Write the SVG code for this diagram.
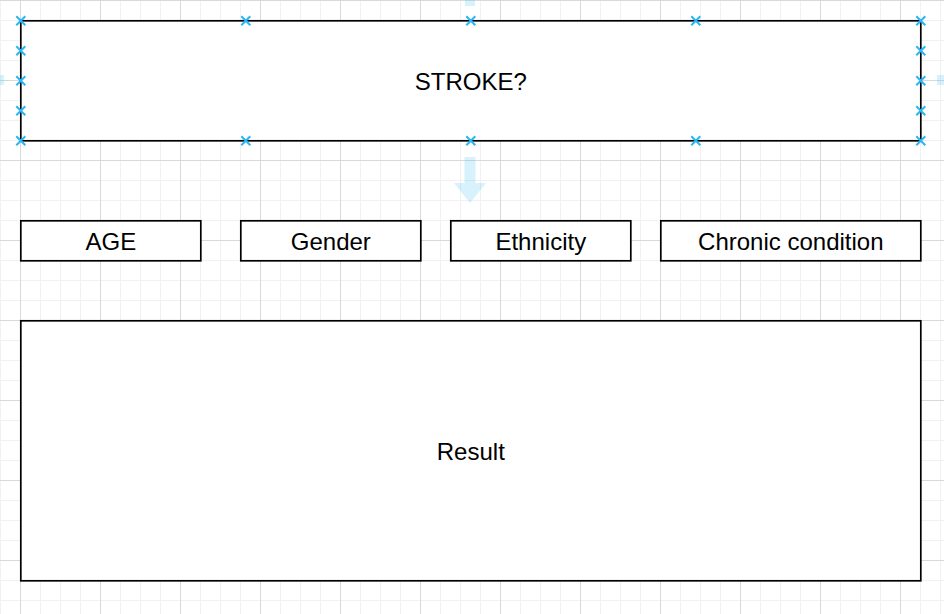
<svg xmlns="http://www.w3.org/2000/svg" width="944" height="614" viewBox="0 0 944 614">
<style>
.box{fill:#ffffff;stroke:#000000;stroke-width:1.7}
.lbl{font-family:"Liberation Sans",Arial,Helvetica,sans-serif;font-size:24px;fill:#000000;text-anchor:middle}
.hint{fill:#29b6f2;fill-opacity:0.18}
</style>
<defs>
<pattern id="minor" patternUnits="userSpaceOnUse" width="20" height="20">
<path d="M0 0.5H20M0.5 0V20" fill="none" stroke="#f1f1f1" stroke-width="1"/>
</pattern>
<pattern id="major" patternUnits="userSpaceOnUse" x="20" y="0" width="80" height="80">
<path d="M0 0.5H80M0.5 0V80" fill="none" stroke="#d9d9d9" stroke-width="1"/>
</pattern>
<g id="xm"><path d="M-4.5 -4.5L4.5 4.5M-4.5 4.5L4.5 -4.5" stroke="#29b6f2" stroke-width="2" fill="none"/></g>
</defs>
<rect width="944" height="614" fill="#ffffff"/>
<rect width="944" height="614" fill="url(#minor)"/>
<rect width="944" height="614" fill="url(#major)"/>

<g id="connectors">
<path class="hint" d="M465 0H475V6H465Z"/>
<path class="hint" d="M464.5 157H475.5V183H486L470 203L454 183H464.5Z"/>
<path class="hint" d="M0 75H4V85H0Z"/>
<path class="hint" d="M937 75H944V85H937Z"/>
</g>

<g transform="translate(0.8,0.8)">
<g id="node-stroke">
<rect class="box" x="20" y="20" width="900" height="120"/>
<text class="lbl" x="470" y="89.5">STROKE?</text>
</g>
<g id="node-age">
<rect class="box" x="20" y="220" width="180" height="40"/>
<text class="lbl" x="110" y="249">AGE</text>
</g>
<g id="node-gender">
<rect class="box" x="240" y="220" width="180" height="40"/>
<text class="lbl" x="330" y="249">Gender</text>
</g>
<g id="node-ethnicity">
<rect class="box" x="450" y="220" width="180" height="40"/>
<text class="lbl" x="540" y="249">Ethnicity</text>
</g>
<g id="node-chronic">
<rect class="box" x="660" y="220" width="260" height="40"/>
<text class="lbl" x="790" y="249">Chronic condition</text>
</g>
<g id="node-result">
<rect class="box" x="20" y="320" width="900" height="260"/>
<text class="lbl" x="470" y="459">Result</text>
</g>

<g id="selection-handles">
<use href="#xm" x="20" y="20"/><use href="#xm" x="245" y="20"/><use href="#xm" x="470" y="20"/><use href="#xm" x="695" y="20"/><use href="#xm" x="920" y="20"/>
<use href="#xm" x="20" y="140"/><use href="#xm" x="245" y="140"/><use href="#xm" x="470" y="140"/><use href="#xm" x="695" y="140"/><use href="#xm" x="920" y="140"/>
<use href="#xm" x="20" y="50"/><use href="#xm" x="20" y="80"/><use href="#xm" x="20" y="110"/>
<use href="#xm" x="920" y="50"/><use href="#xm" x="920" y="80"/><use href="#xm" x="920" y="110"/>
</g>
</g>
</svg>
